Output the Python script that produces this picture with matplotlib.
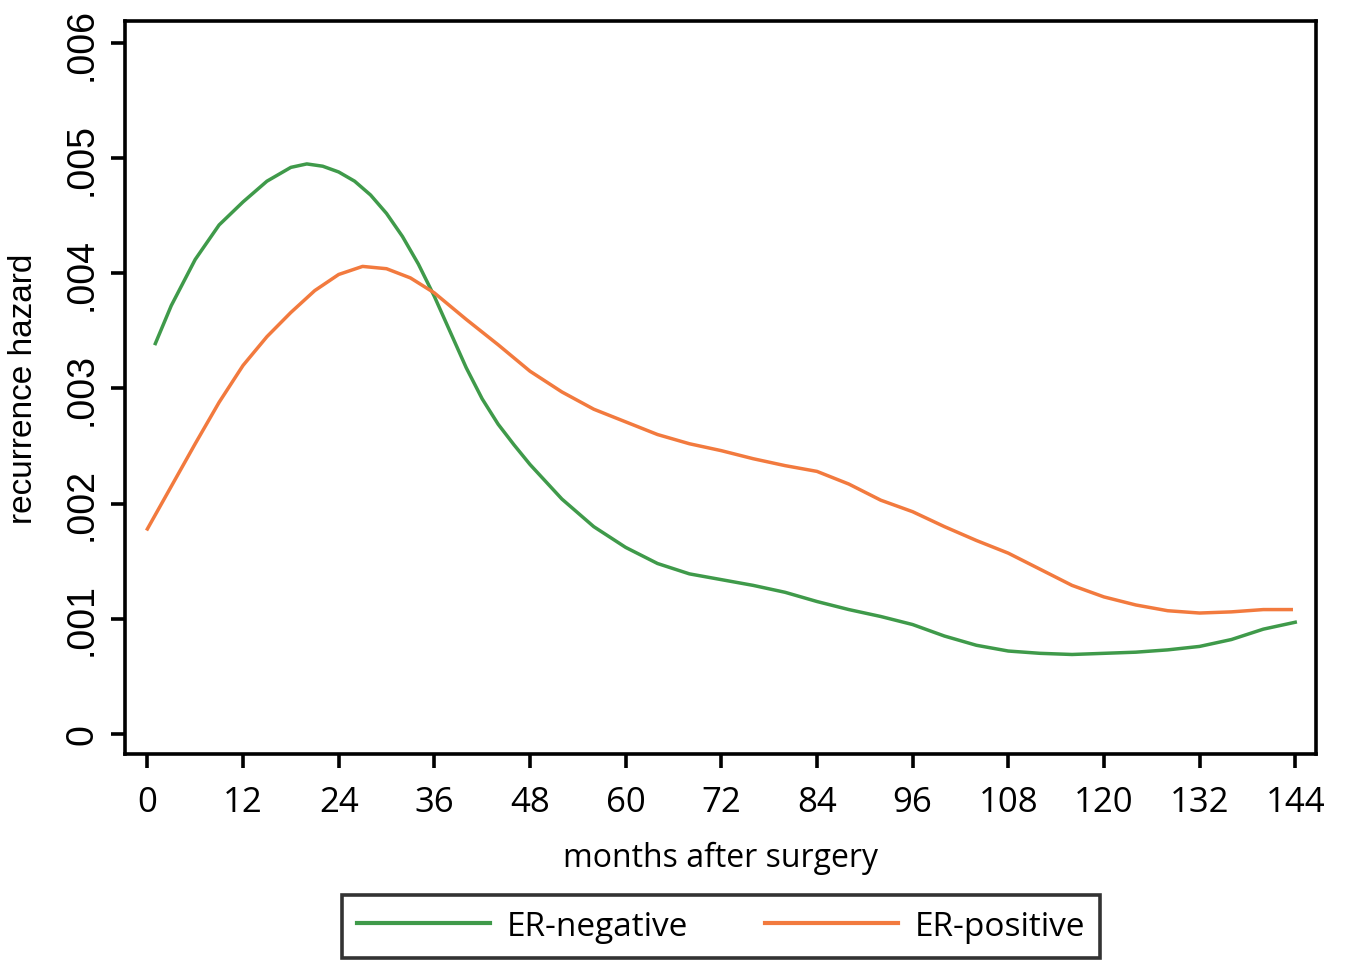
import matplotlib.pyplot as plt

# --- Data (hazard in units of 0.001) ---
months_neg = [1, 3, 6, 9, 12, 15, 18, 20, 22, 24, 26, 28, 30, 32, 34, 36, 38, 40,
              42, 44, 46, 48, 52, 56, 60, 64, 68, 72, 76, 80, 84, 88, 92, 96, 100,
              104, 108, 112, 116, 120, 124, 128, 132, 136, 140, 144]
hazard_neg = [3.39, 3.72, 4.12, 4.42, 4.62, 4.80, 4.92, 4.95, 4.93, 4.88, 4.80,
              4.68, 4.52, 4.32, 4.08, 3.80, 3.49, 3.18, 2.91, 2.69, 2.51, 2.34,
              2.04, 1.80, 1.62, 1.48, 1.39, 1.34, 1.29, 1.23, 1.15, 1.08, 1.02,
              0.95, 0.85, 0.77, 0.72, 0.70, 0.69, 0.70, 0.71, 0.73, 0.76, 0.82,
              0.91, 0.97]

months_pos = [0, 3, 6, 9, 12, 15, 18, 21, 24, 27, 30, 33, 36, 40, 44, 48, 52, 56,
              60, 64, 68, 72, 76, 80, 84, 88, 92, 96, 100, 104, 108, 112, 116, 120,
              124, 128, 132, 136, 140, 143.5]
hazard_pos = [1.78, 2.15, 2.52, 2.88, 3.20, 3.45, 3.66, 3.85, 3.99, 4.06, 4.04,
              3.96, 3.83, 3.60, 3.38, 3.15, 2.97, 2.82, 2.71, 2.60, 2.52, 2.46,
              2.39, 2.33, 2.28, 2.17, 2.03, 1.93, 1.80, 1.68, 1.57, 1.43, 1.29,
              1.19, 1.12, 1.07, 1.05, 1.06, 1.08, 1.08]

x_ticks = list(range(0, 145, 12))
y_ticks = [0, 0.001, 0.002, 0.003, 0.004, 0.005, 0.006]
y_tick_labels = ['0', '.001', '.002', '.003', '.004', '.005', '.006']

GREEN = '#3f9a4a'
ORANGE = '#f27a3e'

plt.rcParams['font.family'] = ['Open Sans', 'DejaVu Sans']

fig = plt.figure(figsize=(13.49, 9.62), dpi=100)
ax = fig.add_axes([0.0927, 0.2152, 0.8828, 0.7618])

ax.plot(months_neg, [v / 1000 for v in hazard_neg], color=GREEN, lw=2.5,
        label='ER-negative')
ax.plot(months_pos, [v / 1000 for v in hazard_pos], color=ORANGE, lw=2.5,
        label='ER-positive')

ax.set_xlim(-2.8, 146.6)
ax.set_ylim(-0.000174, 0.00619)

ax.set_xticks(x_ticks)
ax.set_yticks(y_ticks)
ax.set_yticklabels(y_tick_labels, rotation=90, va='center')
for lbl in ax.get_yticklabels():
    lbl.set_family(['Liberation Sans Narrow', 'Liberation Sans', 'DejaVu Sans'])
    lbl.set_fontsize(27)

for s in ax.spines.values():
    s.set_linewidth(2.6)
ax.tick_params(axis='both', direction='out', length=10, width=2.6,
               colors='black')
ax.tick_params(axis='x', pad=12, labelsize=25)
ax.tick_params(axis='y', pad=8)

ax.set_xlabel('months after surgery', fontsize=23, labelpad=16)
ax.set_ylabel('recurrence hazard', fontsize=24, labelpad=18,
              family=['Liberation Sans Narrow', 'Liberation Sans', 'DejaVu Sans'])

leg = fig.legend(loc='center', bbox_to_anchor=(0.5345, 0.036), ncol=2,
                 fontsize=24, frameon=True, fancybox=False, edgecolor='black',
                 handlelength=4.0, handletextpad=0.5, columnspacing=2.3,
                 borderpad=0.45, borderaxespad=0)
leg.get_frame().set_linewidth(2.6)
for line in leg.get_lines():
    line.set_linewidth(3)

plt.savefig('out.png', dpi=100)
